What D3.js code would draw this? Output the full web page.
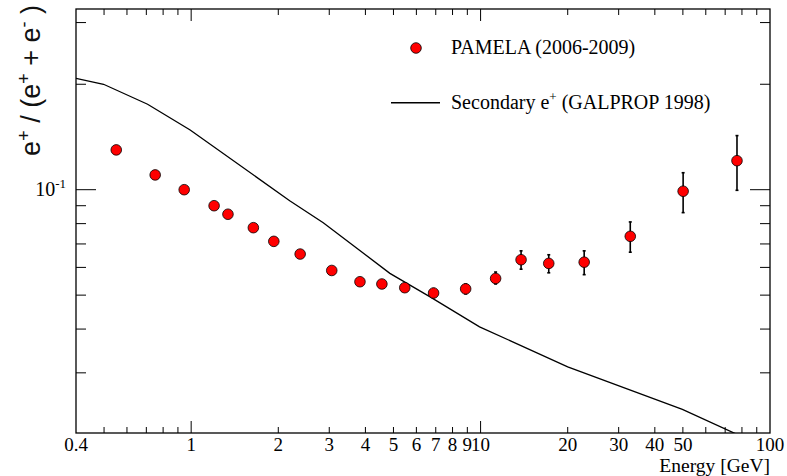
<!DOCTYPE html>
<html><head><meta charset="utf-8">
<script src="https://cdn.jsdelivr.net/npm/d3@7"></script>
<style>body{margin:0;background:#fff}</style>
</head><body><svg id="c" width="787" height="476"></svg>
<script>
// PAMELA positron fraction (2006-2009)
const energy = [0.551,0.751,0.946,1.20,1.34,1.64,1.93,2.38,3.06,3.83,4.56,5.47,6.88,8.88,11.27,13.8,17.2,22.8,32.9,50.1,76.9];
const ratio  = [0.1299,0.1102,0.1000,0.0900,0.0851,0.0779,0.0712,0.0655,0.0588,0.0546,0.0538,0.0525,0.0507,0.0521,0.0558,0.0631,0.0616,0.0621,0.0736,0.0990,0.1210];
const errLow  = [0.0015,0.0013,0.0012,0.0011,0.0011,0.0010,0.0010,0.0010,0.0010,0.0010,0.0011,0.0012,0.0015,0.0017,0.0020,0.0038,0.0037,0.0049,0.0073,0.0130,0.0214];
const errHigh = [0.0015,0.0013,0.0012,0.0011,0.0011,0.0010,0.0010,0.0010,0.0010,0.0010,0.0011,0.0012,0.0015,0.0017,0.0024,0.0038,0.0036,0.0048,0.0073,0.0128,0.0217];
// Secondary e+ (GALPROP 1998)
const galpropE = [0.4,0.498,0.707,0.992,2.19,2.86,4.86,6.67,9.92,20.0,49.8,76.1,100];
const galpropV = [0.208,0.200,0.1754,0.148,0.0930,0.0805,0.0577,0.0495,0.0406,0.0312,0.0236,0.0201,0.0185];
// axis ticks
const xMajorTicks = [1,10];
const xMinorTicks = [0.5,0.6,0.7,0.8,0.9,2,3,4,5,6,7,8,9,20,30,40,50,60,70,80,90];
const xTickLabels = ["0.4","1","2","3","4","5","6","7","8","9","10","20","30","40","50","100"];
const xLabelValues = [0.4,1,2,3,4,5,6,7,8,9,10,20,30,40,50,100];
const yMajorTicks = [0.1];
const yMinorTicks = [0.03,0.04,0.05,0.06,0.07,0.08,0.09,0.2,0.3];

const L=76,R=770,T=9,B=433;
const svg=d3.select("#c");
const x=d3.scaleLog().domain([0.4,100]).range([L,R]);
const y=d3.scaleLog().domain([0.0202,0.328]).range([B,T]);
const serif="'Liberation Serif','Times New Roman',serif";

svg.append("defs").append("clipPath").attr("id","clip")
  .append("rect").attr("x",L).attr("y",T).attr("width",R-L).attr("height",B-T);

// ticks
const tk=svg.append("g").attr("stroke","#000").attr("stroke-width",1);
function xt(v,len){
  tk.append("line").attr("x1",x(v)).attr("x2",x(v)).attr("y1",B).attr("y2",B-len);
  tk.append("line").attr("x1",x(v)).attr("x2",x(v)).attr("y1",T).attr("y2",T+len);
}
function yt(v,len){
  tk.append("line").attr("x1",L).attr("x2",L+len).attr("y1",y(v)).attr("y2",y(v));
  tk.append("line").attr("x1",R).attr("x2",R-len).attr("y1",y(v)).attr("y2",y(v));
}
xMajorTicks.forEach(v=>xt(v,12));
xMinorTicks.forEach(v=>xt(v,6));
yMajorTicks.forEach(v=>yt(v,20));
yMinorTicks.forEach(v=>yt(v,10));

// frame
svg.append("rect").attr("x",L).attr("y",T).attr("width",R-L).attr("height",B-T)
  .attr("fill","none").attr("stroke","#000").attr("stroke-width",1.3);

// x labels
svg.append("g").selectAll("text").data(xLabelValues).join("text")
  .attr("x",d=>x(d)).attr("y",B+18).attr("text-anchor","middle")
  .attr("font-family",serif).attr("font-size",19)
  .text((d,i)=>xTickLabels[i]);
svg.append("text").attr("x",R).attr("y",B+39).attr("text-anchor","end")
  .attr("font-family",serif).attr("font-size",19.5).text("Energy [GeV]");

// y label 10^-1
const yl=svg.append("text").attr("x",L-10).attr("y",y(0.1)+6).attr("text-anchor","end")
  .attr("font-family",serif).attr("font-size",20);
yl.append("tspan").text("10");
yl.append("tspan").attr("dy",-8).attr("font-size",13).text("-1");

// y title
const yt2=svg.append("text").attr("transform","translate(40,5) rotate(-90)")
  .attr("text-anchor","end").attr("font-family","'Liberation Sans',Arial,sans-serif").attr("font-size",27)
  .attr("fill","#111");
yt2.append("tspan").text("e");
yt2.append("tspan").attr("dy",-10).attr("font-size",18).text("+");
yt2.append("tspan").attr("dy",10).text(" / (e");
yt2.append("tspan").attr("dy",-10).attr("font-size",18).text("+");
yt2.append("tspan").attr("dy",10).text(" + e");
yt2.append("tspan").attr("dy",-10).attr("font-size",18).text("-");
yt2.append("tspan").attr("dy",10).text(" )");

// GALPROP line
const gdata=galpropE.map((e,i)=>[e,galpropV[i]]);
svg.append("path").datum(gdata).attr("clip-path","url(#clip)")
  .attr("fill","none").attr("stroke","#000").attr("stroke-width",1.3)
  .attr("d",d3.line().x(d=>x(d[0])).y(d=>y(d[1])));

// error bars
const pts=energy.map((e,i)=>({e,v:ratio[i],lo:ratio[i]-errLow[i],hi:ratio[i]+errHigh[i]}));
const eb=svg.append("g").attr("stroke","#000").attr("stroke-width",1.6);
pts.forEach(p=>{
  eb.append("line").attr("x1",x(p.e)).attr("x2",x(p.e)).attr("y1",y(p.lo)).attr("y2",y(p.hi));
  eb.append("line").attr("x1",x(p.e)-1.5).attr("x2",x(p.e)+1.5).attr("y1",y(p.lo)).attr("y2",y(p.lo));
  eb.append("line").attr("x1",x(p.e)-1.5).attr("x2",x(p.e)+1.5).attr("y1",y(p.hi)).attr("y2",y(p.hi));
});
svg.append("g").selectAll("circle").data(pts).join("circle")
  .attr("cx",d=>x(d.e)).attr("cy",d=>y(d.v)).attr("r",5.3)
  .attr("fill","#ff0000").attr("stroke","#000").attr("stroke-width",0.8);

// legend
svg.append("circle").attr("cx",416).attr("cy",48).attr("r",5.3)
  .attr("fill","#ff0000").attr("stroke","#000").attr("stroke-width",0.8);
svg.append("text").attr("x",451).attr("y",54).attr("font-family",serif).attr("font-size",20)
  .text("PAMELA (2006-2009)");
svg.append("line").attr("x1",391).attr("x2",440).attr("y1",102.7).attr("y2",102.7)
  .attr("stroke","#000").attr("stroke-width",1.5);
const lt=svg.append("text").attr("x",451).attr("y",109).attr("font-family",serif).attr("font-size",20);
lt.append("tspan").text("Secondary e");
lt.append("tspan").attr("dy",-8).attr("font-size",13).text("+");
lt.append("tspan").attr("dy",8).text(" (GALPROP 1998)");
</script></body></html>
